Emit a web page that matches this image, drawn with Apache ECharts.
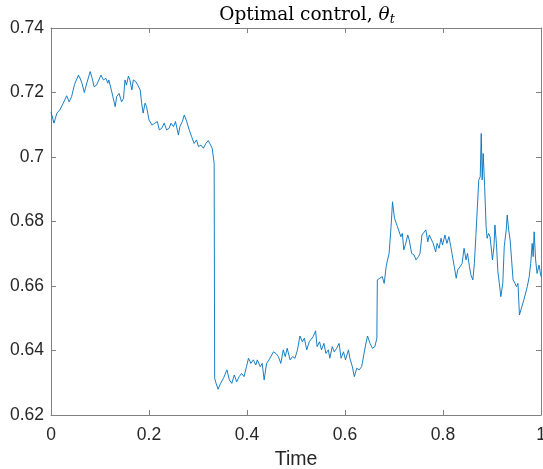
<!DOCTYPE html>
<html>
<head>
<meta charset="utf-8">
<script src="https://cdn.jsdelivr.net/npm/echarts@6/dist/echarts.min.js"></script>
<style>
html,body{margin:0;padding:0;background:#fff;}
#chart{width:543px;height:469px;}
</style>
</head>
<body>
<div id="chart"></div>
<script>
// Time values (x) and optimal control theta_t (y)
var times = [
0, 0.001, 0.006, 0.012, 0.018, 0.025, 0.032, 0.037, 0.042, 0.048,
0.051, 0.056, 0.059, 0.063, 0.068, 0.073, 0.080, 0.084, 0.088, 0.093,
0.097, 0.102, 0.107, 0.112, 0.116, 0.118, 0.124, 0.127, 0.131, 0.134,
0.139, 0.144, 0.148, 0.151, 0.154, 0.158, 0.161, 0.165, 0.168, 0.173,
0.177, 0.182, 0.185, 0.188, 0.192, 0.195, 0.200, 0.206, 0.212, 0.217,
0.221, 0.226, 0.231, 0.236, 0.241, 0.245, 0.250, 0.254, 0.260, 0.263,
0.268, 0.272, 0.277, 0.282, 0.287, 0.292, 0.297, 0.301, 0.306, 0.311,
0.316, 0.321, 0.324, 0.329, 0.332, 0.333, 0.334,
0.337, 0.341, 0.346, 0.352, 0.359, 0.364, 0.369, 0.374, 0.379, 0.384,
0.389, 0.394, 0.399, 0.403, 0.408, 0.413, 0.418, 0.421, 0.427, 0.431,
0.435, 0.440, 0.445, 0.449, 0.454, 0.459, 0.464, 0.469, 0.474, 0.478,
0.482, 0.488, 0.493, 0.498, 0.503, 0.508, 0.513, 0.517, 0.522, 0.527,
0.531, 0.535, 0.540, 0.543, 0.548, 0.552, 0.557, 0.561, 0.566, 0.569,
0.574, 0.578, 0.583, 0.588, 0.592, 0.597, 0.601, 0.607, 0.610, 0.615,
0.619, 0.624, 0.629, 0.634, 0.637, 0.642, 0.646, 0.651, 0.656, 0.661,
0.665, 0.666,
0.671, 0.676, 0.680, 0.684, 0.686, 0.690, 0.694, 0.697, 0.701, 0.704,
0.707, 0.711, 0.714, 0.717, 0.720, 0.724, 0.728, 0.731, 0.736, 0.741,
0.745, 0.750, 0.753, 0.757, 0.761, 0.765, 0.769, 0.772, 0.776, 0.780,
0.785, 0.788, 0.792, 0.796, 0.799, 0.804, 0.808, 0.812, 0.816, 0.820,
0.823, 0.827, 0.830, 0.835, 0.839, 0.843, 0.847, 0.850, 0.854, 0.857,
0.861, 0.864, 0.867, 0.870, 0.873, 0.876, 0.878, 0.880, 0.882, 0.885,
0.888, 0.890, 0.893, 0.896, 0.899, 0.901, 0.904, 0.906, 0.909, 0.912,
0.915, 0.918, 0.922, 0.925, 0.929, 0.931, 0.934, 0.937, 0.940, 0.943,
0.947, 0.950, 0.953, 0.956, 0.959, 0.962, 0.965, 0.969, 0.972, 0.976,
0.979, 0.982, 0.984, 0.986, 0.989, 0.992, 0.996, 1.0
];
var theta = [
0.714, 0.7135, 0.7105, 0.7136, 0.7146, 0.7167, 0.719, 0.7171, 0.7187, 0.7225,
0.722, 0.7254, 0.7245, 0.723, 0.720, 0.7229, 0.7265, 0.7244, 0.7218, 0.7223,
0.7218, 0.7254, 0.7239, 0.7244, 0.7229, 0.7239, 0.7202, 0.7197, 0.7156, 0.7187,
0.7197, 0.7171, 0.7182, 0.7239, 0.7223, 0.7251, 0.7239, 0.7208, 0.7239, 0.7234,
0.7223, 0.7208, 0.7167, 0.7136, 0.7167, 0.7156, 0.7115, 0.7099, 0.7105, 0.711,
0.7084, 0.7089, 0.7105, 0.7084, 0.7089, 0.7105, 0.7094, 0.711, 0.7068, 0.7094,
0.711, 0.713, 0.711, 0.7084, 0.7063, 0.7042, 0.7053, 0.7032, 0.7037, 0.7027,
0.7042, 0.7051, 0.7042, 0.7027, 0.7022, 0.698, 0.6314,
0.6298, 0.628, 0.6298, 0.6314, 0.634, 0.6309, 0.6298, 0.6324, 0.6303, 0.6319,
0.6329, 0.6319, 0.635, 0.6376, 0.636, 0.6371, 0.6355, 0.6371, 0.635, 0.636,
0.6309, 0.636, 0.6371, 0.6365, 0.6396, 0.6391, 0.6381, 0.636, 0.6402, 0.6381,
0.6407, 0.6371, 0.6381, 0.6376, 0.6402, 0.6445, 0.6427, 0.6438, 0.6402, 0.6427,
0.6422, 0.6443, 0.6461, 0.6412, 0.6427, 0.6402, 0.6422, 0.6391, 0.6402, 0.6376,
0.6412, 0.6396, 0.6407, 0.6422, 0.6376, 0.6396, 0.6371, 0.6402, 0.6376, 0.635,
0.6319, 0.6345, 0.634, 0.635, 0.6355, 0.6417, 0.6445, 0.6422, 0.6407, 0.6412,
0.6438, 0.6619,
0.6624, 0.6629, 0.6608, 0.666, 0.6675, 0.6701, 0.6784, 0.6861, 0.681, 0.6805,
0.6784, 0.6779, 0.6753, 0.6763, 0.6712, 0.6732, 0.6758, 0.6743, 0.6701, 0.6696,
0.6681, 0.6691, 0.6701, 0.6758, 0.6753, 0.6774, 0.6737, 0.6758, 0.6753, 0.6732,
0.6706, 0.6732, 0.6717, 0.6748, 0.6727, 0.6758, 0.6732, 0.6753, 0.6722, 0.6686,
0.666, 0.6624, 0.665, 0.666, 0.667, 0.6717, 0.6681, 0.6701, 0.666, 0.6634,
0.6619, 0.667, 0.6753, 0.6748, 0.6929, 0.6939, 0.7073, 0.6929, 0.7011, 0.6908,
0.6784, 0.6748, 0.6763, 0.6753, 0.6758, 0.6681, 0.6722, 0.6789, 0.6732, 0.6644,
0.6608, 0.6567, 0.6608, 0.6722, 0.6774, 0.682, 0.6774, 0.6743, 0.6681, 0.6619,
0.6608, 0.6598, 0.6608, 0.651, 0.6526, 0.6521, 0.6557, 0.6551, 0.6598, 0.6629,
0.667, 0.6732, 0.6691, 0.6768, 0.6681, 0.6639, 0.6665, 0.6629
];
var xTicks = [0, 0.2, 0.4, 0.6, 0.8, 1];
var yTicks = [0.62, 0.64, 0.66, 0.68, 0.7, 0.72, 0.74];
var xLabel = 'Time';

var chart = echarts.init(document.getElementById('chart'), null, {renderer: 'canvas'});
var lineData = times.map(function (t, i) { return [t, theta[i]]; });

var axisLineStyle = {color: '#808080', width: 1};
var tickFont = {color: '#262626', fontSize: 17.5, fontFamily: 'Liberation Sans, Arial, Helvetica, sans-serif'};

function xAx(pos, showLabel) {
  return {
    type: 'value', position: pos, min: xTicks[0], max: xTicks[xTicks.length - 1], interval: 0.2,
    name: showLabel ? xLabel : '', nameLocation: 'middle', nameGap: 35,
    nameTextStyle: {color: '#262626', fontSize: 19.5, fontFamily: 'Liberation Sans, Arial, sans-serif'},
    axisLine: {show: true, onZero: false, lineStyle: axisLineStyle},
    axisTick: {show: true, inside: true, length: 5, lineStyle: axisLineStyle},
    axisLabel: Object.assign({show: showLabel, margin: 11, showMinLabel: true, showMaxLabel: true, hideOverlap: false}, tickFont),
    splitLine: {show: false}
  };
}
function yAx(pos, showLabel) {
  return {
    type: 'value', position: pos, min: yTicks[0], max: yTicks[yTicks.length - 1], interval: 0.02,
    axisLine: {show: true, onZero: false, lineStyle: axisLineStyle},
    axisTick: {show: true, inside: true, length: 5, lineStyle: axisLineStyle},
    axisLabel: Object.assign({show: showLabel, margin: 7, showMinLabel: true, showMaxLabel: true, hideOverlap: false}, tickFont),
    splitLine: {show: false}
  };
}

var serif = 'DejaVu Serif, serif';
chart.setOption({
  animation: false,
  backgroundColor: '#ffffff',
  title: {
    text: '{a|Optimal control, }{b|θ}{c|t}',
    left: 302, top: -1, textAlign: 'center',
    textStyle: {
      fontWeight: 'normal',
      rich: {
        a: {fontFamily: serif, fontWeight: 'normal', fontSize: 18.5, color: '#000', lineHeight: 22},
        b: {fontFamily: serif, fontWeight: 'normal', fontStyle: 'italic', fontSize: 18.5, color: '#000', lineHeight: 22},
        c: {fontFamily: serif, fontWeight: 'normal', fontStyle: 'italic', fontSize: 12.5, color: '#000', lineHeight: 22, verticalAlign: 'bottom', padding: [8, 0, 0, 0]}
      }
    }
  },
  grid: {left: 51, right: 2, top: 28, bottom: 54, containLabel: false, outerBoundsMode: 'none'},
  xAxis: [xAx('bottom', true), xAx('top', false)],
  yAxis: [yAx('left', true), yAx('right', false)],
  series: [{
    type: 'line',
    data: lineData,
    xAxisIndex: 0, yAxisIndex: 0,
    showSymbol: false,
    symbol: 'none',
    lineStyle: {color: '#0072BD', width: 0.9},
    itemStyle: {color: '#0072BD'}
  }]
});
</script>
</body>
</html>
